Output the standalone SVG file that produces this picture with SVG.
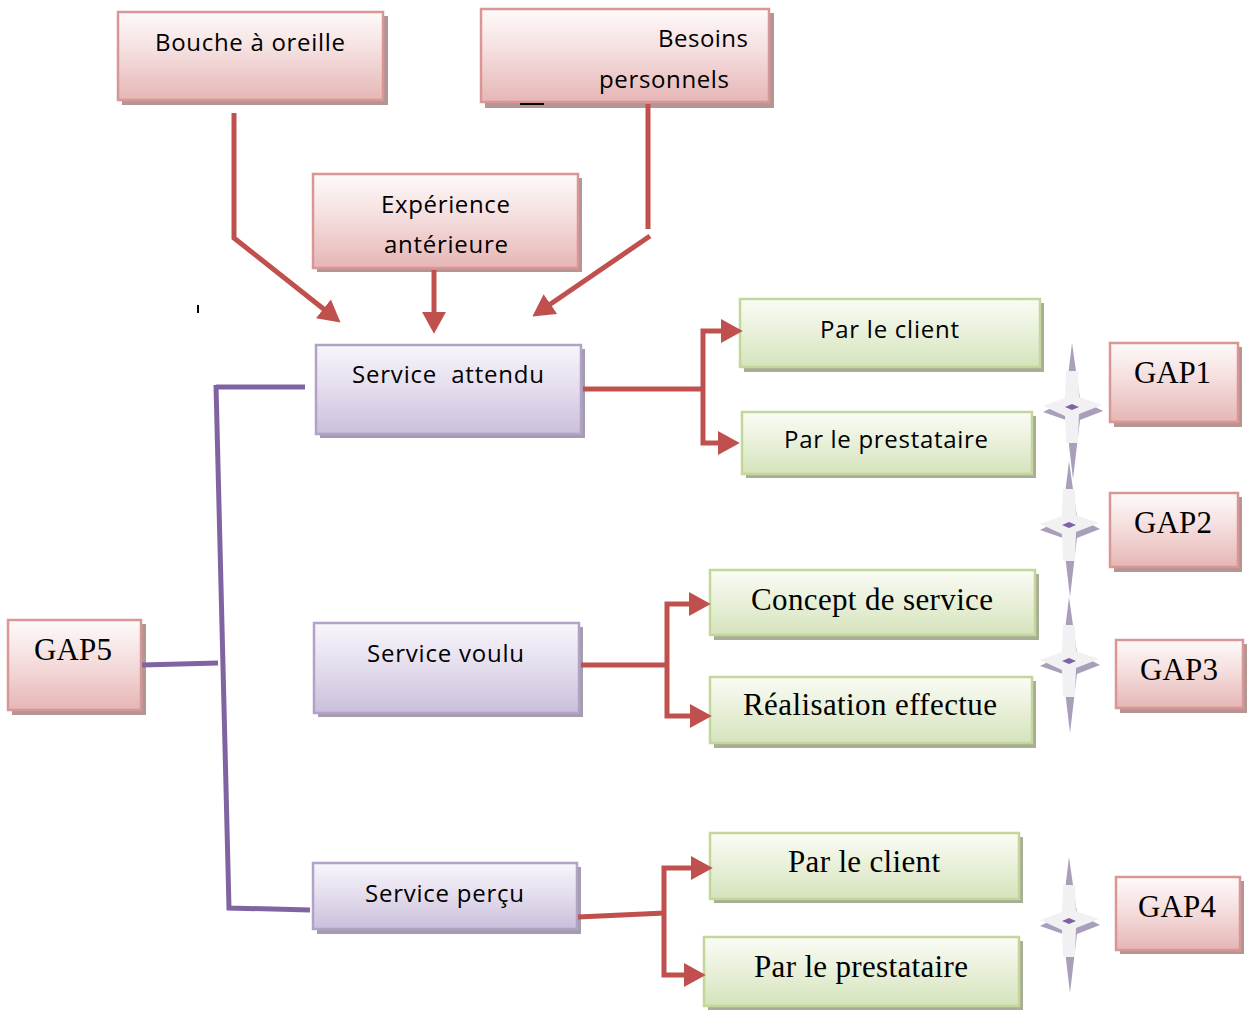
<svg xmlns="http://www.w3.org/2000/svg" xmlns:xlink="http://www.w3.org/1999/xlink" width="1247" height="1012" viewBox="0 0 1247 1012">
  <defs>
    <linearGradient id="gRed" x1="0" y1="0" x2="0" y2="1">
      <stop offset="0" stop-color="#fefafa"/>
      <stop offset="0.45" stop-color="#f5dede"/>
      <stop offset="1" stop-color="#e5b6b5"/>
    </linearGradient>
    <linearGradient id="gGreen" x1="0" y1="0" x2="0" y2="1">
      <stop offset="0" stop-color="#fafcf5"/>
      <stop offset="0.45" stop-color="#eaf1dc"/>
      <stop offset="1" stop-color="#d5e3bb"/>
    </linearGradient>
    <linearGradient id="gPurple" x1="0" y1="0" x2="0" y2="1">
      <stop offset="0" stop-color="#f8f6fb"/>
      <stop offset="0.45" stop-color="#e5dfee"/>
      <stop offset="1" stop-color="#cbbfdb"/>
    </linearGradient>
    <marker id="arrow" markerUnits="userSpaceOnUse" markerWidth="22" markerHeight="24" refX="12" refY="11" orient="auto-start-reverse" viewBox="0 0 20 22">
      <path d="M0,0 L20,11 L0,22 Z" fill="#c0504d"/>
    </marker>
    <!-- four-pointed sparkle used between the gap labels -->
    <g id="star">
      <path d="M0,-64 L8,-8 L31,4 L8,13 L1,72 L-6,13 L-29,5 L-7,-6 Z" fill="#aa9fba"/>
      <path d="M-6,-36 L6,-36 L7,-10 L30,-2 L7,7 L6,36 L-6,36 L-7,9 L-29,-1 L-7,-9 Z" fill="#f1f1f3"/>
      <path d="M-7,0 L0,-3 L7,0 L0,3 Z" fill="#7f62a6"/>
    </g>
  </defs>
  <style>
    .red { fill: url(#gRed); stroke: #d99694; stroke-width: 2.5; }
    .green { fill: url(#gGreen); stroke: #c3d69b; stroke-width: 2.5; }
    .purple { fill: url(#gPurple); stroke: #b3a2c7; stroke-width: 2.5; }
    .shRed { fill: #b39594; }
    .shGreen { fill: #a9ad95; }
    .shPurple { fill: #a59dae; }
    .sans { font-family: "Open Sans", "Liberation Sans", sans-serif; font-size: 24px; fill: #000; }
    .serif { font-family: "Liberation Serif", "Times New Roman", serif; font-size: 31px; fill: #000; }
    .linkRed { fill: none; stroke: #c0504d; stroke-width: 5; }
    .linkPurple { fill: none; stroke: #8064a2; stroke-width: 5; }
  </style>

  <rect width="1247" height="1012" fill="#ffffff"/>

  <!-- sources of expectation -->
  <g id="bouche">
    <rect class="shRed" x="122" y="16" width="266" height="89"/>
    <rect class="red" x="118" y="12" width="265" height="88"/>
    <text class="sans" x="155" y="51" textLength="190">Bouche à oreille</text>
  </g>
  <g id="besoins">
    <rect class="shRed" x="485" y="13" width="289" height="95"/>
    <rect class="red" x="481" y="9" width="288" height="93"/>
    <text class="sans" x="658" y="47" textLength="90">Besoins</text>
    <text class="sans" x="599" y="88" textLength="130">personnels</text>
    <line x1="520" y1="104" x2="544" y2="104" stroke="#000" stroke-width="2"/>
  </g>
  <g id="experience">
    <rect class="shRed" x="317" y="178" width="265" height="94"/>
    <rect class="red" x="313" y="174" width="265" height="94"/>
    <text class="sans" x="381" y="213" textLength="129">Expérience</text>
    <text class="sans" x="384" y="253" textLength="124">antérieure</text>
  </g>

  <!-- service levels -->
  <g id="service-attendu">
    <rect class="shPurple" x="320" y="349" width="265" height="89"/>
    <rect class="purple" x="316" y="345" width="265" height="89"/>
    <text class="sans" x="352" y="383" textLength="192" xml:space="preserve">Service  attendu</text>
  </g>
  <g id="service-voulu">
    <rect class="shPurple" x="318" y="627" width="265" height="90"/>
    <rect class="purple" x="314" y="623" width="265" height="90"/>
    <text class="sans" x="367" y="662" textLength="157">Service voulu</text>
  </g>
  <g id="service-percu">
    <rect class="shPurple" x="317" y="867" width="264" height="67"/>
    <rect class="purple" x="313" y="863" width="264" height="66"/>
    <text class="sans" x="365" y="902" textLength="159">Service perçu</text>
  </g>

  <!-- branches -->
  <g id="client-1">
    <rect class="shGreen" x="744" y="303" width="300" height="69"/>
    <rect class="green" x="740" y="299" width="300" height="68"/>
    <text class="sans" x="820" y="338" textLength="139">Par le client</text>
  </g>
  <g id="prestataire-1">
    <rect class="shGreen" x="746" y="416" width="290" height="62"/>
    <rect class="green" x="742" y="412" width="290" height="62"/>
    <text class="sans" x="784" y="448" textLength="204">Par le prestataire</text>
  </g>
  <g id="concept">
    <rect class="shGreen" x="714" y="574" width="325" height="66"/>
    <rect class="green" x="710" y="570" width="325" height="65"/>
    <text class="serif" x="751" y="610" textLength="242">Concept de service</text>
  </g>
  <g id="realisation">
    <rect class="shGreen" x="714" y="681" width="322" height="67"/>
    <rect class="green" x="710" y="677" width="322" height="66"/>
    <text class="serif" x="743" y="715" textLength="254">Réalisation effectue</text>
  </g>
  <g id="client-3">
    <rect class="shGreen" x="714" y="837" width="309" height="66"/>
    <rect class="green" x="710" y="833" width="309" height="66"/>
    <text class="serif" x="788" y="872" textLength="152">Par le client</text>
  </g>
  <g id="prestataire-3">
    <rect class="shGreen" x="708" y="941" width="315" height="69"/>
    <rect class="green" x="704" y="937" width="315" height="69"/>
    <text class="serif" x="754" y="977" textLength="214">Par le prestataire</text>
  </g>

  <!-- gap labels -->
  <g id="gap1">
    <rect class="shRed" x="1114" y="347" width="128" height="80"/>
    <rect class="red" x="1110" y="343" width="128" height="79"/>
    <text class="serif" x="1134" y="383" textLength="77">GAP1</text>
  </g>
  <g id="gap2">
    <rect class="shRed" x="1114" y="497" width="128" height="75"/>
    <rect class="red" x="1110" y="493" width="128" height="74"/>
    <text class="serif" x="1134" y="533" textLength="78">GAP2</text>
  </g>
  <g id="gap3">
    <rect class="shRed" x="1120" y="644" width="127" height="69"/>
    <rect class="red" x="1116" y="640" width="127" height="68"/>
    <text class="serif" x="1140" y="680" textLength="78">GAP3</text>
  </g>
  <g id="gap4">
    <rect class="shRed" x="1120" y="881" width="124" height="73"/>
    <rect class="red" x="1116" y="877" width="124" height="73"/>
    <text class="serif" x="1138" y="917" textLength="78">GAP4</text>
  </g>
  <g id="gap5">
    <rect class="shRed" x="12" y="624" width="134" height="91"/>
    <rect class="red" x="8" y="620" width="133" height="90"/>
    <text class="serif" x="34" y="660" textLength="78">GAP5</text>
  </g>

  <!-- sparkles -->
  <g id="stars">
    <use xlink:href="#star" x="1072" y="407"/>
    <use xlink:href="#star" x="1069" y="525"/>
    <use xlink:href="#star" x="1069" y="661"/>
    <use xlink:href="#star" x="1069" y="921"/>
  </g>

  <!-- connectors -->
  <g id="connectors">
    <path class="linkRed" d="M234,113 V238 L333.7,317" marker-end="url(#arrow)"/>
    <path class="linkRed" d="M434,270 V325" marker-end="url(#arrow)"/>
    <path class="linkRed" d="M648,104 V229"/>
    <path class="linkRed" d="M650,236 L539.6,311.5" marker-end="url(#arrow)"/>

    <path class="linkRed" d="M583,389 H703"/>
    <path class="linkRed" d="M734,331 H703 V443 H731" marker-start="url(#arrow)" marker-end="url(#arrow)"/>

    <path class="linkRed" d="M581,665 H667"/>
    <path class="linkRed" d="M702,604 H667 V716 H703" marker-start="url(#arrow)" marker-end="url(#arrow)"/>

    <path class="linkRed" d="M578,917 L665,913"/>
    <path class="linkRed" d="M704,868 H664 V975 H697" marker-start="url(#arrow)" marker-end="url(#arrow)"/>

    <path class="linkPurple" d="M305,387 H216"/>
    <path class="linkPurple" d="M216,385 L229,908 L310,910"/>
    <path class="linkPurple" d="M142,665 L218,663"/>
  </g>

  <!-- stray mark -->
  <line x1="198" y1="305" x2="198" y2="313" stroke="#000" stroke-width="2"/>
</svg>
